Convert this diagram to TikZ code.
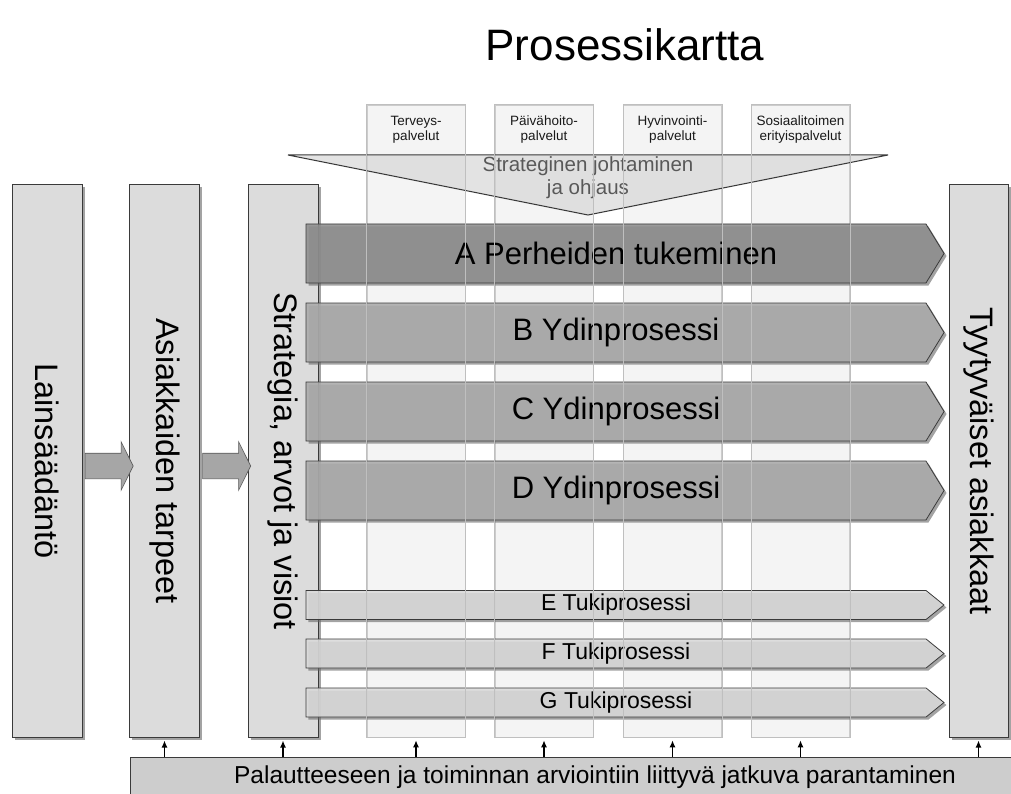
\documentclass[tikz,border=0pt]{standalone}
\usepackage{fontspec}
\setmainfont{Liberation Sans}
\usetikzlibrary{shapes.symbols,shapes.arrows,shadows,arrows.meta}

\definecolor{pillarfill}{HTML}{DCDCDC}
\definecolor{lanefill}{HTML}{F4F4F4}
\definecolor{mainfill}{HTML}{8E8E8E}
\definecolor{corefill}{HTML}{ABABAB}
\definecolor{supportfill}{HTML}{DADADA}
\definecolor{barfill}{HTML}{CDCDCD}
\definecolor{linegray}{HTML}{3A3A3A}

\begin{document}
\begin{tikzpicture}[x=1pt,y=-1pt,
  shade3/.style={drop shadow={shadow xshift=2.5pt,shadow yshift=-2.5pt,fill=black!60,opacity=.6}},
  pillar/.style={draw=linegray,line width=1pt,fill=pillarfill,minimum width=70pt,minimum height=552pt,inner sep=0pt,font=\fontsize{32.5}{36}\selectfont,shade3},
  lane/.style={fill=lanefill,draw=black!20,line width=.6pt,minimum width=98pt,minimum height=632pt,inner sep=0pt},
  laneline/.style={draw=black!25,line width=.6pt},
  lanehead/.style={font=\fontsize{13.5}{15}\selectfont,align=center,text=black!90},
  proc/.style={signal,signal to=east,signal from=nowhere,draw=linegray,line width=.8pt,fill opacity=.88,text opacity=1,inner sep=0pt,minimum width=638pt,shade3},
  core/.style={proc,fill=corefill,minimum height=59pt,signal pointer angle=117,font=\fontsize{31}{36}\selectfont},
  support/.style={proc,fill=supportfill,minimum height=29pt,signal pointer angle=78,font=\fontsize{23}{27}\selectfont},
  fatarrow/.style={single arrow,draw=black!65,fill=black!35,line width=.6pt,minimum height=48pt,minimum width=0pt,inner xsep=0pt,inner ysep=12.5pt,single arrow head extend=11.5pt,single arrow tip angle=127},
  feedback/.style={-{Latex[length=7pt,width=6pt]},line width=1.3pt,black}
]
\clip (0,0) rectangle (1011,794);
\useasboundingbox (0,0) rectangle (1011,794);

% service lanes behind everything
\node[lane] (health) at (416,421) {};
\node[lane] (daycare) at (544,421) {};
\node[lane] (welfare) at (672.5,421) {};
\node[lane] (social) at (800.5,421) {};
\node[lanehead] at (416,129.5) {Terveys-\\palvelut};
\node[lanehead] at (544,129.5) {Päivähoito-\\palvelut};
\node[lanehead] at (672.5,129.5) {Hyvinvointi-\\palvelut};
\node[lanehead] at (800.5,129.5) {Sosiaalitoimen\\erityispalvelut};

% strategic steering funnel
\draw[draw=linegray,line width=1pt,fill=black!18,fill opacity=.6] (288,155) -- (888,155) -- (588,215) -- cycle;
\node[font=\fontsize{20.5}{23}\selectfont,align=center,text=black!65] (steer) at (588,178) {Strateginen johtaminen\\ja ohjaus};

% pillars
\node[pillar] (law) at (47,461) {\rotatebox{-90}{Lainsäädäntö}};
\node[pillar] (needs) at (164.5,461) {\rotatebox{-90}{Asiakkaiden tarpeet}};
\node[pillar] (strategy) at (283,461) {\rotatebox{-90}{Strategia, arvot ja visiot}};
\node[pillar,minimum width=59pt] (happy) at (978.5,461) {\rotatebox{-90}{Tyytyväiset asiakkaat}};

\node[fatarrow] (law2needs) at (106,466) {};
\node[fatarrow] (needs2strat) at (223.5,466) {};

% processes
\node[core,fill=mainfill] (pA) at (616,253.5) {A Perheiden tukeminen};
\node[core] (pB) at (616,332.5) {B Ydinprosessi};
\node[core] (pC) at (616,411.5) {C Ydinprosessi};
\node[core] (pD) at (616,490.5) {D Ydinprosessi};
\node[support] (pE) at (616,605) {E Tukiprosessi};
\node[support] (pF) at (616,653.5) {F Tukiprosessi};
\node[support] (pG) at (616,702.5) {G Tukiprosessi};

% lane borders again on top
\foreach \l in {health,daycare,welfare,social}
  \draw[laneline] (\l.north west) rectangle (\l.south east);

% feedback bar
\node[draw=linegray,line width=1pt,fill=barfill,minimum width=930pt,minimum height=40pt,inner sep=0pt,font=\fontsize{24.5}{27}\selectfont] (bar) at (595,777) {Palautteeseen ja toiminnan arviointiin liittyvä jatkuva parantaminen};
\foreach \t in {needs,strategy,health,daycare,welfare,social,happy}
  \draw[feedback] (bar.north -| \t.south) -- ([yshift=-3pt]\t.south);

\node[font=\fontsize{44}{48}\selectfont] (title) at (625,45) {Prosessikartta};
\end{tikzpicture}
\end{document}
